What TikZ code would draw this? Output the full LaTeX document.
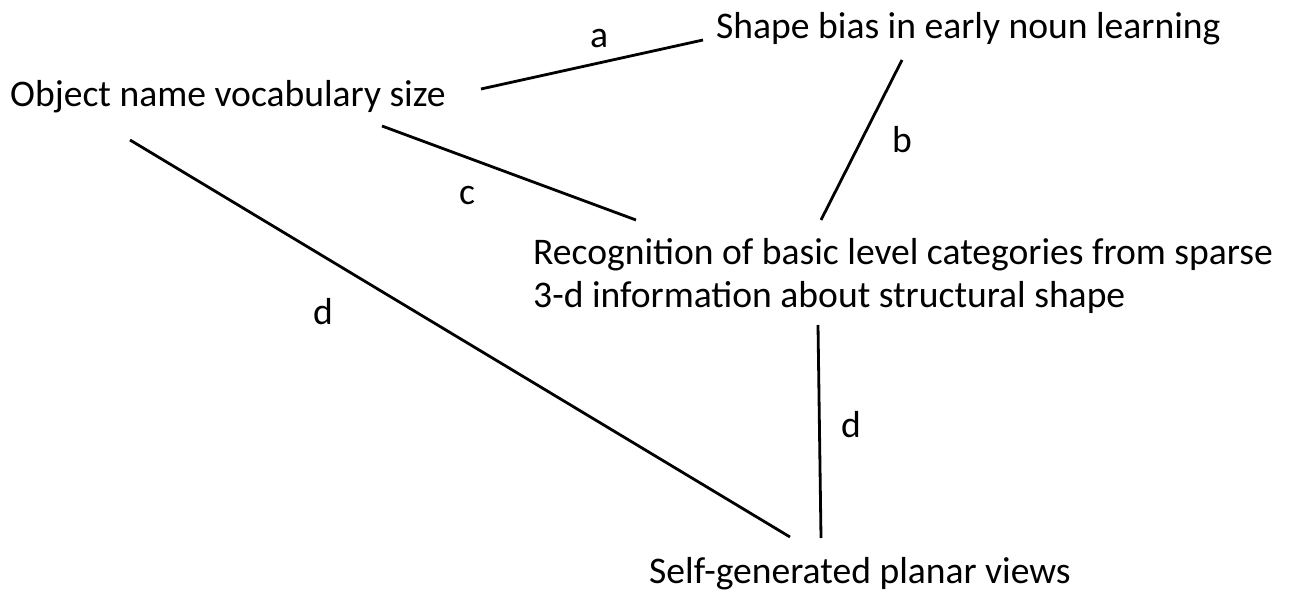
\documentclass[tikz,border=0pt]{standalone}
\usepackage{fontspec}
\setmainfont{Carlito}
\begin{document}
\begin{tikzpicture}[x=1pt,y=-1pt,
  txt/.style={inner sep=0pt,anchor=base west,font=\fontsize{37.6}{43}\selectfont,align=left},
  lbl/.style={inner sep=0pt,anchor=base,font=\fontsize{37.6}{43}\selectfont},
  link/.style={line width=2.8pt}]
\useasboundingbox (0,0) rectangle (1292,593);
\node[txt] (shape) at (716,39) {Shape bias in early noun learning};
\node[txt] (vocab) at (10,107) {Object name vocabulary size};
\node[txt] (recog) at (533,308) {Recognition of basic level categories from sparse\\3-d information about structural shape};
\node[txt] (self) at (649,583) {Self-generated planar views};
\coordinate (a1) at (481,89);
\coordinate (a2) at (703,40);
\coordinate (b1) at (902,60);
\coordinate (b2) at (821,220);
\coordinate (c1) at (382,126);
\coordinate (c2) at (636,220);
\coordinate (d1) at (130,140);
\coordinate (d2) at (790,537);
\coordinate (e1) at (818,325);
\coordinate (e2) at (821,538);
\draw[link] (a1) -- (a2);
\draw[link] (b1) -- (b2);
\draw[link] (c1) -- (c2);
\draw[link] (d1) -- (d2);
\draw[link] (e1) -- (e2);
\node[lbl] (la) at (599,48) {a};
\node[lbl] (lb) at (902,153) {b};
\node[lbl] (lc) at (467,205) {c};
\node[lbl] (ld) at (323,325) {d};
\node[lbl] (le) at (851,437) {d};
\end{tikzpicture}
\end{document}
